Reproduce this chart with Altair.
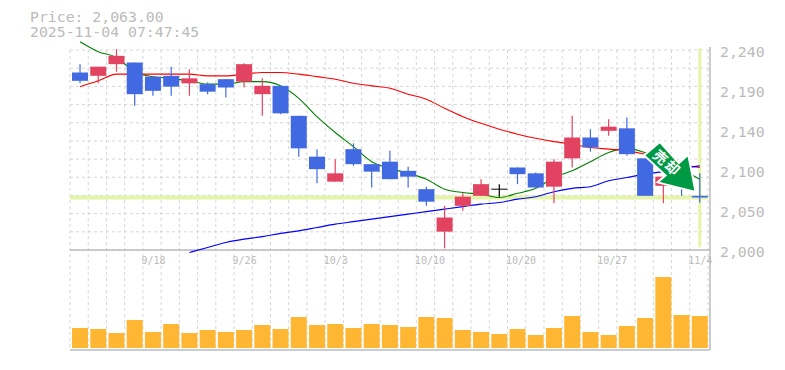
import altair as alt
import pandas as pd

high = [2223,2220,2241,2225,2208,2220,2217,2201,2205,2224,2206,2197,2161,2121,2109,2128,2103,2119,2100,2076,2053,2068,2085,2079,2099,2093,2109,2161,2145,2157,2159,2110,2088,2097,2092]
top = [2213,2220,2233,2225,2208,2209,2206,2199,2205,2223,2197,2197,2161,2112,2092,2121,2103,2106,2095,2073,2039,2064,2079,2073.6,2099,2092,2106,2135,2135,2148,2146,2110,2088,2092,2065]
bottom = [2203,2209,2223,2187,2191,2196,2200,2190,2195,2202,2187,2164,2122,2097,2082,2103,2094,2085,2088,2058,2022,2053,2065,2072.4,2091,2075,2076,2110,2123,2143,2115,2065,2077,2077,2063]
low = [2200,2200,2214,2173,2185,2185,2185,2187,2183,2195,2161,2163,2112,2080,2082,2101,2075,2085,2075,2053,2002,2047,2065,2064,2079,2075,2056,2099,2118,2137,2113,2065,2056,2065,2057]
kind = ["d","u","u","d","d","d","u","d","d","u","u","d","d","d","u","d","d","d","d","d","u","u","u","f","d","d","u","u","d","u","d","d","u","d","d"]
volume = [200,190,150,280,160,240,150,180,160,180,230,190,310,230,240,200,240,230,210,310,300,180,160,140,190,130,200,320,160,130,220,300,710,330,320]
ma_short = [2250,2238,2231,2214,2208,2206,2203,2199,2199,2202,2202,2197,2182,2160,2141,2124,2106,2098,2092,2085,2073,2069,2067,2063,2068,2074,2087,2095,2106,2117,2122,2117,2109,2097,2085]
ma_mid = [2196,2203,2211,2211,2211,2211,2211,2209,2209,2211,2213,2213,2211,2208,2205,2200,2197,2194,2187,2181,2170,2160,2152,2145,2139,2134,2130,2127,2123,2121,2119,2115,2109,2103,2099]
ma_long = [1997,2003,2009,2013,2016,2020,2023,2027,2031,2034,2037,2040,2043,2046,2049,2052,2055,2057,2061,2064,2070,2074,2076,2083,2087,2091,2094,2098,2101]
ma_long_start = 6
date_idx = [4,9,14,19,24,29,34]
date_txt = ["9/18","9/26","10/3","10/10","10/20","10/27","11/4"]
price_ticks = [2000,2048,2096,2144,2192,2240]
price_txt = ["2,000","2,050","2,100","2,140","2,190","2,240"]
grid_prices = [2000,2021.8,2043.6,2065.5,2087.3,2109.1,2130.9,2152.7,2174.5,2196.4,2218.2,2240]
last_price = 2063
caption = ["Price: 2,063.00","2025-11-04 07:47:45"]

COLORS = {"u":"#e24360","d":"#4169e1","f":"#000000"}
GRAY = "#bbbbbb"
GRID = "#d6d6d6"
MONO = "DejaVu Sans Mono"
n = len(high)
idx = list(range(n))
X = alt.Scale(domain=[-0.55,34.56], nice=False, zero=False, padding=0)
Y = alt.Scale(domain=[1880,2240], nice=False, zero=False)
V = alt.Scale(domain=[-20,2980], nice=False, zero=False)
x = alt.X("i:Q", scale=X, axis=None)
y = alt.Y("p:Q", scale=Y, axis=None)

df = pd.DataFrame({"i":idx,"high":high,"top":top,"bottom":bottom,"low":low,
                   "c":[COLORS[k] for k in kind],"v":volume})

vgrid = alt.Chart(pd.DataFrame({"i":[k-0.55 for k in range(n+1)]})).mark_rule(
    color=GRID, strokeDash=[3,3], strokeWidth=1).encode(x=x, y=alt.value(0), y2=alt.value(300))
hgrid = alt.Chart(pd.DataFrame({"p":grid_prices})).mark_rule(
    color=GRID, strokeDash=[3,3], strokeWidth=1).encode(y=y, x=alt.value(0), x2=alt.value(640))

vol = alt.Chart(df).mark_bar(size=16, color="#ffb733").encode(
    x=x, y=alt.Y("v:Q", scale=V, axis=None), y2=alt.datum(0))

axes_h = alt.Chart(pd.DataFrame({"p":[2000,1880]})).mark_rule(color=GRAY, strokeWidth=1.5).encode(
    y=y, x=alt.value(0), x2=alt.value(640))
axis_v = alt.Chart(pd.DataFrame({"i":[34.56]})).mark_rule(color=GRAY, strokeWidth=1.5).encode(
    x=x, y=alt.value(-3), y2=alt.value(300))

lime_h = alt.Chart(pd.DataFrame({"p":[last_price]})).mark_rule(color="#e4f4a8", strokeWidth=4).encode(
    y=y, x=alt.value(0), x2=alt.value(638))
lime_v = alt.Chart(pd.DataFrame({"i":[34],"p":[2242],"p2":[2003]})).mark_rule(color="#e4f4a8", strokeWidth=3).encode(
    x=x, y=y, y2="p2:Q")

def line(vals, start, color):
    d = pd.DataFrame({"i":idx[start:], "p":vals})
    return alt.Chart(d).mark_line(color=color, strokeWidth=1.1, interpolate="monotone").encode(x=x, y=y)

wick = alt.Chart(df).mark_rule(strokeWidth=1.2).encode(
    x=x, y=alt.Y("high:Q", scale=Y, axis=None), y2="low:Q", color=alt.Color("c:N", scale=None))
body = alt.Chart(df).mark_bar(size=16).encode(
    x=x, y=alt.Y("top:Q", scale=Y, axis=None), y2="bottom:Q", color=alt.Color("c:N", scale=None))

ARROW = "M-0.333,-0.823 L0.3,-0.123 L0.61,-0.4 L0.857,0.843 L-0.41,0.523 L-0.143,0.29 L-0.857,-0.377 Z"
arrow = alt.Chart(pd.DataFrame({"i":[32.36],"p":[2100]})).mark_point(
    shape=ARROW, size=3600, filled=True, fill="#009944", stroke="#ffffff", strokeWidth=2, opacity=1).encode(x=x, y=y)
arrow_txt = alt.Chart(pd.DataFrame({"i":[31.8,32.45],"p":[2110,2097.4],"t":["売","却"]})).mark_text(
    font="Noto Sans CJK JP", fontWeight="bold", fontSize=14, angle=42, color="#ffffff",
    align="center", baseline="middle").encode(x=x, y=y, text="t:N")

dates = alt.Chart(pd.DataFrame({"i":date_idx,"p":[2000]*len(date_idx),"t":date_txt})).mark_text(
    font=MONO, fontSize=10, color=GRAY, align="left", baseline="middle", dx=-11.5, dy=11).encode(x=x, y=y, text="t:N")
prices = alt.Chart(pd.DataFrame({"p":price_ticks,"t":price_txt})).mark_text(
    font=MONO, fontSize=14.8, color=GRAY, align="left", baseline="middle", dy=3).encode(
    y=y, x=alt.value(650), text="t:N")
cap = alt.Chart(pd.DataFrame({"t":caption,"row":[-32,-17]})).mark_text(
    font=MONO, fontSize=14.8, color=GRAY, align="left", baseline="middle").encode(
    x=alt.value(-40), y=alt.Y("row:Q", scale=None, axis=None), text="t:N")

chart = alt.layer(
    vgrid, hgrid, vol, axes_h, axis_v, lime_h, lime_v,
    line(ma_short,0,"#008000"), line(ma_mid,0,"#ff0000"), line(ma_long,ma_long_start,"#0000ff"),
    wick, body, arrow, arrow_txt, dates, prices, cap
).resolve_scale(y="independent").properties(
    width=640, height=300,
    autosize=alt.AutoSizeParams(type="none"),
    padding={"left":62,"top":42,"right":60,"bottom":5}
).configure_view(stroke=None)

chart.save("out.html", embed_options={"renderer":"svg","actions":False})
